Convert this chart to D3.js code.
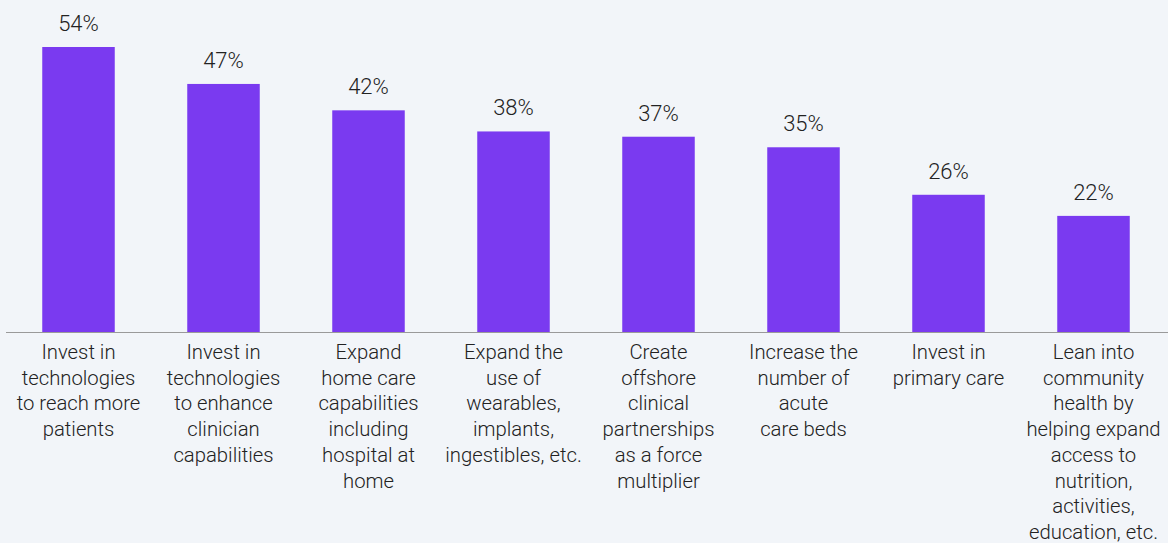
<!DOCTYPE html>
<html>
<head>
<meta charset="utf-8">
<script src="https://cdn.jsdelivr.net/npm/d3@7"></script>
<style>
  html, body { margin: 0; padding: 0; background: #f2f5f9; }
  svg { display: block; }
  text { font-family: Roboto, "Noto Sans", sans-serif; font-weight: 300; fill: #222; }
</style>
</head>
<body>
<svg id="chart" width="1168" height="543"></svg>
<script>
// Survey responses: share of respondents choosing each strategy
const categories = [
  ["Invest in", "technologies", "to reach more", "patients"],
  ["Invest in", "technologies", "to enhance", "clinician", "capabilities"],
  ["Expand", "home care", "capabilities", "including", "hospital at", "home"],
  ["Expand the", "use of", "wearables,", "implants,", "ingestibles, etc."],
  ["Create", "offshore", "clinical", "partnerships", "as a force", "multiplier"],
  ["Increase the", "number of", "acute", "care beds"],
  ["Invest in", "primary care"],
  ["Lean into", "community", "health by", "helping expand", "access to", "nutrition,", "activities,", "education, etc."]
];
const values = [54, 47, 42, 38, 37, 35, 26, 22];

const svg = d3.select("#chart");
const width = 1168, baseY = 332;

const x = d3.scaleBand()
  .domain(d3.range(values.length))
  .range([6, 1166])
  .paddingInner(0.5)
  .paddingOuter(0.25);

const y = d3.scaleLinear()
  .domain([0, 54])
  .range([baseY, 47]);

// bars
svg.append("g").selectAll("rect")
  .data(values)
  .join("rect")
  .attr("x", (d, i) => x(i))
  .attr("y", d => y(d))
  .attr("width", x.bandwidth())
  .attr("height", d => baseY - y(d))
  .attr("fill", "#7a3af0");

// value labels
svg.append("g").selectAll("text")
  .data(values)
  .join("text")
  .attr("x", (d, i) => x(i) + x.bandwidth() / 2)
  .attr("y", d => y(d) - 16)
  .attr("text-anchor", "middle")
  .attr("font-size", 22)
  .text(d => d + "%");

// baseline
svg.append("line")
  .attr("x1", 6).attr("x2", width)
  .attr("y1", baseY + 0.5).attr("y2", baseY + 0.5)
  .attr("stroke", "#9a9a9a")
  .attr("stroke-width", 1);

// category labels, one tspan per line
const lab = svg.append("g").selectAll("text")
  .data(categories)
  .join("text")
  .attr("text-anchor", "middle")
  .attr("font-size", 20.3)
  .attr("transform", (d, i) => `translate(${x(i) + x.bandwidth() / 2},${baseY + 27})`);

lab.selectAll("tspan")
  .data(d => d)
  .join("tspan")
  .attr("x", 0)
  .attr("y", (d, j) => j * 25.7)
  .text(d => d);
</script>
</body>
</html>
